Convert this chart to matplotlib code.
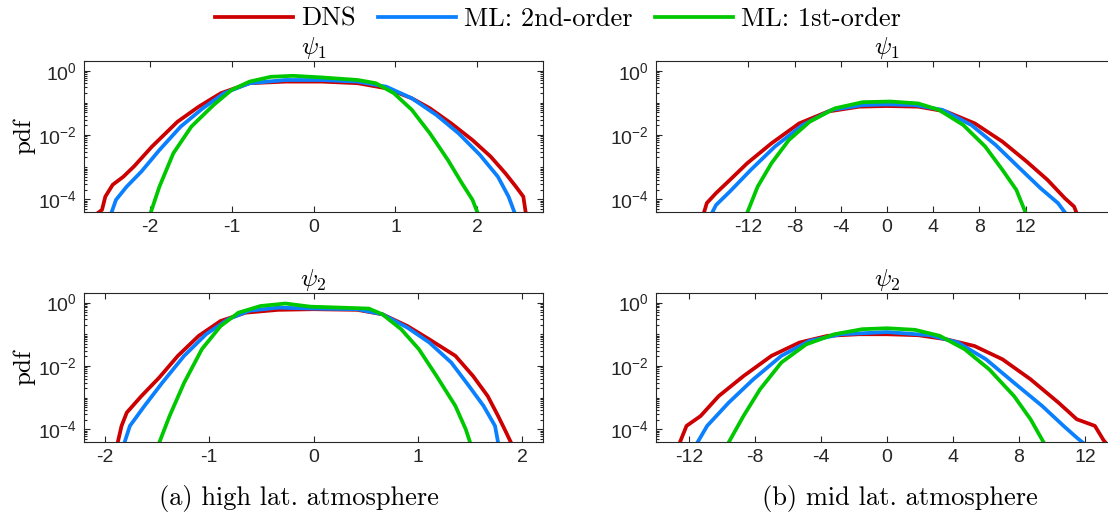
import numpy as np
import matplotlib
matplotlib.use("Agg")
import matplotlib.pyplot as plt
from matplotlib.ticker import FixedLocator, FixedFormatter, LogLocator, NullFormatter

plt.rcParams["mathtext.fontset"] = "cm"
plt.rcParams["font.family"] = ["Liberation Sans", "DejaVu Sans"]
plt.rcParams["axes.unicode_minus"] = False

# ---- data: x value, log10(pdf) ----
# (a) high latitude, psi_1
hl1_dns_x = [-2.72, -2.58, -2.54, -2.45, -2.32, -2.19, -1.97, -1.66, -1.40, -1.13, -0.78, -0.34, 0.10, 0.54, 0.89, 1.20, 1.42, 1.68, 1.94, 2.16, 2.34, 2.47, 2.56, 2.60]
hl1_dns_y = [-4.6, -4.33, -3.92, -3.55, -3.30, -2.98, -2.36, -1.59, -1.12, -0.70, -0.39, -0.34, -0.34, -0.39, -0.55, -0.86, -1.17, -1.64, -2.16, -2.67, -3.19, -3.61, -3.92, -4.6]
hl1_ml2_x = [-2.49, -2.41, -2.28, -2.10, -1.88, -1.62, -1.35, -1.09, -0.78, -0.34, 0.10, 0.54, 0.89, 1.20, 1.50, 1.77, 2.03, 2.25, 2.38, 2.48]
hl1_ml2_y = [-4.6, -4.02, -3.61, -3.14, -2.47, -1.74, -1.17, -0.70, -0.39, -0.29, -0.29, -0.34, -0.50, -0.86, -1.38, -1.95, -2.62, -3.30, -3.92, -4.6]
hl1_ml1_x = [-2.01, -1.88, -1.71, -1.49, -1.22, -1.00, -0.78, -0.52, -0.25, 0.10, 0.54, 0.76, 0.98, 1.20, 1.42, 1.64, 1.81, 1.94, 2.03]
hl1_ml1_y = [-4.6, -3.61, -2.57, -1.74, -1.07, -0.60, -0.34, -0.19, -0.16, -0.21, -0.29, -0.39, -0.70, -1.22, -1.95, -2.78, -3.50, -4.02, -4.6]

# (a) high latitude, psi_2
hl2_dns_x = [-1.89, -1.84, -1.79, -1.65, -1.48, -1.30, -1.10, -0.89, -0.65, -0.34, 0.0, 0.42, 0.66, 0.90, 1.11, 1.36, 1.53, 1.67, 1.77, 1.84, 1.92]
hl2_dns_y = [-4.6, -3.89, -3.47, -2.95, -2.37, -1.68, -1.05, -0.58, -0.32, -0.23, -0.21, -0.23, -0.37, -0.74, -1.16, -1.68, -2.32, -2.95, -3.58, -4.05, -4.6]
hl2_ml2_x = [-1.83, -1.76, -1.62, -1.45, -1.24, -1.03, -0.82, -0.62, -0.34, 0.0, 0.42, 0.66, 0.90, 1.11, 1.32, 1.49, 1.63, 1.74, 1.78]
hl2_ml2_y = [-4.6, -3.89, -3.26, -2.53, -1.68, -1.00, -0.53, -0.26, -0.16, -0.19, -0.21, -0.37, -0.79, -1.26, -1.89, -2.63, -3.26, -3.89, -4.6]
hl2_ml1_x = [-1.50, -1.38, -1.24, -1.07, -0.89, -0.72, -0.51, -0.27, -0.03, 0.26, 0.53, 0.66, 0.84, 1.01, 1.18, 1.36, 1.46, 1.52]
hl2_ml1_y = [-4.6, -3.58, -2.53, -1.47, -0.74, -0.32, -0.11, -0.03, -0.13, -0.16, -0.19, -0.37, -0.84, -1.47, -2.32, -3.26, -4.00, -4.6]

# (b) mid latitude, psi_1
ml1_dns_x = [-16.0, -15.6, -14.8, -13.6, -12.1, -10.0, -7.6, -5.1, -2.4, 0.0, 2.7, 5.1, 7.6, 10.0, 12.1, 13.9, 15.4, 16.2, 16.6]
ml1_dns_y = [-4.6, -4.12, -3.81, -3.40, -2.88, -2.26, -1.64, -1.27, -1.12, -1.10, -1.12, -1.27, -1.64, -2.21, -2.83, -3.40, -3.97, -4.23, -4.6]
ml1_ml2_x = [-15.4, -14.8, -13.6, -11.8, -9.7, -7.3, -4.8, -2.1, 0.0, 2.4, 4.8, 7.3, 9.4, 11.5, 13.3, 14.8, 15.8]
ml1_ml2_y = [-4.6, -4.18, -3.76, -3.09, -2.36, -1.69, -1.22, -1.07, -1.05, -1.07, -1.22, -1.69, -2.31, -3.04, -3.66, -4.12, -4.6]
ml1_ml1_x = [-12.3, -11.2, -10.0, -8.5, -6.7, -4.5, -2.1, 0.3, 2.7, 4.5, 6.6, 8.5, 10.0, 11.2, 12.2]
ml1_ml1_y = [-4.6, -3.61, -2.88, -2.16, -1.59, -1.17, -0.98, -0.96, -1.02, -1.22, -1.69, -2.36, -3.09, -3.71, -4.6]

# (b) mid latitude, psi_2
ml2_dns_x = [-12.7, -12.15, -11.3, -10.2, -8.7, -7.0, -5.3, -3.6, -1.7, 0.0, 1.9, 3.6, 5.3, 7.0, 8.7, 10.4, 11.5, 12.6, 13.1, 13.5]
ml2_dns_y = [-4.6, -3.89, -3.58, -2.95, -2.32, -1.68, -1.26, -1.05, -1.00, -1.00, -1.03, -1.16, -1.37, -1.79, -2.42, -3.16, -3.68, -3.89, -4.32, -4.6]
ml2_ml2_x = [-11.7, -10.9, -9.6, -8.1, -6.4, -4.7, -2.8, 0.0, 2.6, 4.3, 6.0, 7.7, 9.4, 10.7, 11.5, 12.3]
ml2_ml2_y = [-4.6, -3.89, -3.16, -2.42, -1.68, -1.21, -1.00, -0.93, -1.03, -1.26, -1.79, -2.53, -3.26, -3.89, -4.26, -4.6]
ml2_ml1_x = [-9.8, -8.7, -7.7, -6.4, -4.9, -3.2, -1.5, 0.0, 1.7, 3.2, 4.7, 6.2, 7.7, 8.7, 9.7]
ml2_ml1_y = [-4.6, -3.58, -2.74, -1.89, -1.32, -1.00, -0.84, -0.81, -0.86, -1.05, -1.47, -2.11, -2.95, -3.68, -4.6]

labels = ["DNS", "ML: 2nd-order", "ML: 1st-order"]
colors = ["#CC0000", "#0A80FF", "#00C800"]

panels = [
    # position (px: left, top, right, bottom), xlim, xticks, title, data, ylabel
    ((84, 61, 543, 212), (-2.8, 2.8), [-2, -1, 0, 1, 2], r"$\psi_1$",
     [(hl1_dns_x, hl1_dns_y), (hl1_ml2_x, hl1_ml2_y), (hl1_ml1_x, hl1_ml1_y)], True),
    ((84, 293, 543, 442), (-2.2, 2.2), [-2, -1, 0, 1, 2], r"$\psi_2$",
     [(hl2_dns_x, hl2_dns_y), (hl2_ml2_x, hl2_ml2_y), (hl2_ml1_x, hl2_ml1_y)], True),
    ((656, 61, 1118, 212), (-20, 20), [-12, -8, -4, 0, 4, 8, 12], r"$\psi_1$",
     [(ml1_dns_x, ml1_dns_y), (ml1_ml2_x, ml1_ml2_y), (ml1_ml1_x, ml1_ml1_y)], False),
    ((656, 293, 1118, 442), (-14, 14), [-12, -8, -4, 0, 4, 8, 12], r"$\psi_2$",
     [(ml2_dns_x, ml2_dns_y), (ml2_ml2_x, ml2_ml2_y), (ml2_ml1_x, ml2_ml1_y)], False),
]

W, H = 1108, 517
fig = plt.figure(figsize=(W / 100, H / 100), dpi=100)
edge = "#262626"

for (x0, y0, x1, y1), xlim, xticks, title, series, ylab in panels:
    ax = fig.add_axes([x0 / W, 1 - y1 / H, (x1 - x0) / W, (y1 - y0) / H])
    for (xs, ys), c, lab in zip(series, colors, labels):
        ax.plot(xs, 10 ** np.array(ys), color=c, lw=2.7, label=lab, solid_joinstyle="round")
    ax.set_yscale("log")
    ax.set_xlim(*xlim)
    ax.set_ylim(4e-5, 2.0)
    ax.xaxis.set_major_locator(FixedLocator(xticks))
    ax.xaxis.set_major_formatter(FixedFormatter([str(t) for t in xticks]))
    ax.yaxis.set_major_locator(FixedLocator([1e-4, 1e-2, 1e0]))
    ax.yaxis.set_major_formatter(FixedFormatter([r"$\mathregular{10^{-4}}$", r"$\mathregular{10^{-2}}$", r"$\mathregular{10^{0}}$"]))
    ax.yaxis.set_minor_locator(LogLocator(base=10, subs=np.arange(1, 10), numticks=20))
    ax.yaxis.set_minor_formatter(NullFormatter())
    ax.tick_params(which="both", direction="in", top=True, right=True, color=edge,
                   labelcolor=edge, labelsize=14, width=0.8)
    ax.tick_params(which="major", length=4, pad=5)
    ax.tick_params(which="minor", length=2.5)
    for s in ax.spines.values():
        s.set_color(edge)
        s.set_linewidth(0.8)
    ax.set_title(title, fontsize=18, pad=2)
    if ylab:
        ax.set_ylabel("pdf", family="cmr10", fontsize=18, labelpad=2)

fig.legend(*ax.get_legend_handles_labels(), loc="center", bbox_to_anchor=(558 / W, 1 - 19 / H),
           ncol=3, frameon=False, prop={"family": "cmr10", "size": 19},
           handlelength=2.95, handletextpad=0.3, columnspacing=0.85,
           borderpad=0.1)

fig.text(299 / W, 1 - 498 / H, "(a) high lat. atmosphere", family="cmr10", fontsize=19,
         ha="center", va="center")
fig.text(900 / W, 1 - 498 / H, "(b) mid lat. atmosphere", family="cmr10", fontsize=19,
         ha="center", va="center")

fig.savefig("out.png", dpi=100)
